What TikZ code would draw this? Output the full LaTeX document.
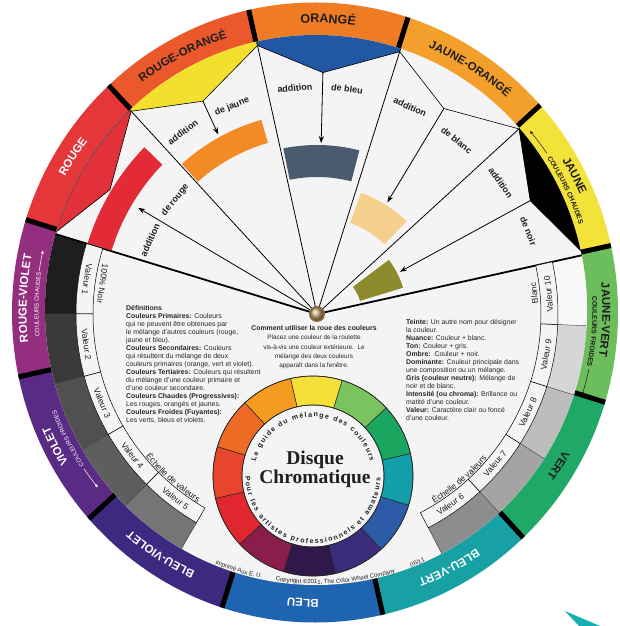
\documentclass[tikz,border=0pt]{standalone}
\usepackage{fontspec}
\setmainfont{Liberation Sans}
\newfontfamily\myserif{Liberation Serif}
\usetikzlibrary{decorations.text,arrows.meta}
% ring colours
\definecolor{cJV}{HTML}{6CBD5B}
\definecolor{cJ}{HTML}{F2E23A}
\definecolor{cJO}{HTML}{F29F2C}
\definecolor{cO}{HTML}{EF7B23}
\definecolor{cRO}{HTML}{EA582B}
\definecolor{cR}{HTML}{E5363A}
\definecolor{cRV}{HTML}{932F7E}
\definecolor{cV}{HTML}{592B85}
\definecolor{cBV}{HTML}{3D2A80}
\definecolor{cB}{HTML}{1F64B0}
\definecolor{cBVe}{HTML}{17A1A4}
\definecolor{cVe}{HTML}{20A966}
\definecolor{ringdark}{HTML}{1E1E1E}
\definecolor{diskbg}{HTML}{F4F4F4}
\definecolor{winblue}{HTML}{2157A5}
\definecolor{winyel}{HTML}{F3DF2E}
\definecolor{winred}{HTML}{E2313A}
\definecolor{swred}{HTML}{E22B36}
\definecolor{sworange}{HTML}{F28A25}
\definecolor{swgray}{HTML}{4A5B6D}
\definecolor{swtan}{HTML}{F5CF8C}
\definecolor{swolive}{HTML}{8E8B2F}
\definecolor{vA}{HTML}{1E1E1E}
\definecolor{vB}{HTML}{3A3A3A}
\definecolor{vC}{HTML}{505050}
\definecolor{vD}{HTML}{5E5E5E}
\definecolor{vE}{HTML}{757575}
\definecolor{vF}{HTML}{8D8D8D}
\definecolor{vG}{HTML}{A4A4A4}
\definecolor{vH}{HTML}{BDBDBD}
\definecolor{vI}{HTML}{D6D6D6}
\definecolor{vJ}{HTML}{F8F8F8}
\definecolor{sY}{HTML}{F5E03A}
\definecolor{sYO}{HTML}{F39C1F}
\definecolor{sO}{HTML}{EE6B25}
\definecolor{sRO}{HTML}{E8452F}
\definecolor{sR}{HTML}{E1262F}
\definecolor{sRV}{HTML}{8A1D4B}
\definecolor{sV}{HTML}{30194A}
\definecolor{sBV}{HTML}{3B2D7C}
\definecolor{sB}{HTML}{2C5BA7}
\definecolor{sT}{HTML}{139EAA}
\definecolor{sG}{HTML}{1BA660}
\definecolor{sYG}{HTML}{7BC35F}
\definecolor{brass}{HTML}{C19A52}
% fonts
\newcommand\myringfont{\bfseries\fontsize{11.5}{12}\selectfont}
\newcommand\myringfontL{\bfseries\fontsize{12.5}{13}\selectfont}
\newcommand\mysubfont{\fontsize{6}{7}\selectfont}
\newcommand\mysubfontb{\bfseries\fontsize{6.8}{8}\selectfont}
\newcommand\myaddfont{\bfseries\fontsize{9}{10}\selectfont}
\newcommand\myvalfont{\fontsize{8.5}{9}\selectfont}
\newcommand\myswfont{\bfseries\fontsize{7}{8}\selectfont}
\newcommand\mycpfont{\fontsize{6}{7}\selectfont}
\newcommand\mydeffont{\fontsize{6.9}{8}\selectfont}
% helpers
\newcommand\annsec[5][]{\path[#1] (#2:#4) arc[start angle=#2,end angle=#3,radius=#4] -- (#3:#5) arc[start angle=#3,end angle=#2,radius=#5] -- cycle;}
\newcommand\cwtext[5]{\path[decorate,decoration={text along path,text align=center,text color=#3,text={|#4|#5}}] ({#1+40}:#2) arc[start angle={#1+40},end angle={#1-40},radius=#2];}
\newcommand\ccwtext[5]{\path[decorate,decoration={text along path,text align=center,text color=#3,text={|#4|#5}}] ({#1-40}:#2) arc[start angle={#1-40},end angle={#1+40},radius=#2];}
\tikzset{
  addl/.style={font=\myaddfont,inner sep=0,text=ringdark},
  vlab/.style={font=\myvalfont,inner sep=0,text=ringdark},
  arr/.style={line width=.8pt,-{Stealth[length=7pt,width=5pt]}},
  subarr/.style={line width=.5pt,-{Triangle[length=3pt,width=2.6pt]}},
}
\begin{document}
\begin{tikzpicture}[x=1pt,y=1pt]
\useasboundingbox (-317,-312) rectangle (303,314);
\fill[white] (-317,-312) rectangle (303,314);
% ---------- outer ring ----------
\begin{scope}
  \clip (-2,1.5) ellipse [x radius=303, y radius=310];
  \foreach \c [count=\i from 0] in {cJV,cJ,cJO,cO,cRO,cR,cRV,cV,cBV,cB,cBVe,cVe}{
    \pgfmathsetmacro\ta{-17.5+30*\i}
    \pgfmathsetmacro\tb{\ta+30}
    \fill[\c] (-1.5,3) -- ++(\ta:420) arc[start angle=\ta,end angle=\tb,radius=420] -- cycle;
  }
  \foreach \i in {0,...,11}{
    \draw[line width=5pt] (-1.5,3) ++({12.5+30*\i}:250) -- ++({12.5+30*\i}:80);
  }
\end{scope}
% ---------- inner disk ----------
\fill[diskbg] (-1,4) ellipse [x radius=271, y radius=275];
\begin{scope}
  \clip (-1,4) ellipse [x radius=271, y radius=275];
  % value grays
  \foreach \a/\b/\g in {163/180/vA,180/195/vB,195/210/vC,210/225/vD,225/240/vE,-62.5/-47.5/vF,-47.5/-32.5/vG,-32.5/-17.5/vH,-17.5/-2.5/vI,-2.5/12.5/vJ}{
    \annsec[fill=\g]{\a}{\b}{241}{300}
  }
  \foreach \t in {180,195,210,225,240,-62.5,-47.5,-32.5,-17.5,-2.5}{
    \draw[line width=.45pt,black!75] (\t:241) -- (\t:300);
  }
  % windows
  \fill[black] (12.5:274) -- (28:241.5) -- (42.5:274) -- (42.5:300) arc[start angle=42.5,end angle=12.5,radius=300] -- cycle;
  \fill[winblue] (72.5:275) -- (88.6:241.5) -- (102.5:275) -- (102.5:300) arc[start angle=102.5,end angle=72.5,radius=300] -- cycle;
  \fill[winyel] (102.5:275) -- (118.2:241.5) -- (132.5:275) -- (132.5:300) arc[start angle=132.5,end angle=102.5,radius=300] -- cycle;
  \fill[winred] (132.5:275) -- (149:241.5) -- (163:275) -- (163:300) arc[start angle=163,end angle=132.5,radius=300] -- cycle;
  \draw[line width=.6pt] (12.5:274) -- (28:241.5) -- (42.5:274) -- (58.3:241.5) -- (72.5:275) -- (88.6:241.5) -- (102.5:275) -- (118.2:241.5) -- (132.5:275) -- (149:241.5) -- (163:275);
  \begin{scope}
    \clip (0,0) -- (132.5:400) -- (147:400) -- (163:400) -- cycle;
    \draw[line width=1.2pt,black!70] (-1,4) ellipse [x radius=271, y radius=275];
  \end{scope}
  % lines from the pin
  \foreach \t in {42.5,72.5,102.5,132.5}{ \draw[line width=.8pt] (0,0) -- (\t:300); }
  \draw[line width=1.8pt] (0,0) -- (163:300);
  \draw[line width=1.8pt] (0,0) -- (12.5:300);
\end{scope}
% ---------- ring labels ----------
\begin{scope}[shift={(-1.5,3)}]
  \cwtext{87.5}{288.2}{ringdark}{\myringfontL}{ORANGÉ}
  \cwtext{57.5}{286.6}{ringdark}{\myringfont}{JAUNE-ORANGÉ}
  \cwtext{117.5}{287}{ringdark}{\myringfont}{ROUGE-ORANGÉ}
  \cwtext{147.5}{284.3}{white}{\myringfont}{ROUGE}
  \cwtext{237.5}{286.6}{white}{\myringfont}{BLEU-VIOLET}
  \cwtext{267.5}{288.2}{white}{\myringfont}{BLEU}
  \cwtext{297.5}{287}{white}{\myringfont}{BLEU-VERT}
  \cwtext{327.5}{284.3}{ringdark}{\myringfont}{VERT}
  \cwtext{177.5}{289}{white}{\myringfont}{ROUGE-VIOLET}
  \cwtext{178.6}{277}{white}{\mysubfont}{COULEURS CHAUDES}
  \draw[white,subarr] (171.8:279.2) arc[start angle=171.8,end angle=167.5,radius=279.2];
  \cwtext{207.5}{290}{white}{\myringfont}{VIOLET}
  \cwtext{207.3}{278}{white}{\mysubfont}{COULEURS FROIDES}
  \draw[white,subarr] (214.3:280.2) arc[start angle=214.3,end angle=219,radius=280.2];
  \cwtext{27.6}{289}{ringdark}{\myringfont}{JAUNE}
  \cwtext{25.8}{277.5}{ringdark}{\mysubfontb}{COULEURS CHAUDES}
  \draw[ringdark,subarr] (34.3:280) arc[start angle=34.3,end angle=40,radius=280];
  \cwtext{358.3}{287}{ringdark}{\myringfont}{JAUNE-VERT}
  \cwtext{-4.2}{277}{ringdark}{\mysubfontb}{COULEURS FROIDES}
  \draw[ringdark,subarr] (-12:279.5) arc[start angle=-12,end angle=-17.5,radius=279.5];
\end{scope}
% ---------- value scale labels ----------
\foreach \a/\b/\t [count=\i] in {163/180/Valeur 1,180/195/Valeur 2,195/210/Valeur 3,210/225/Valeur 4,225/240/Valeur 5,-62.5/-47.5/Valeur 6,-47.5/-32.5/Valeur 7,-32.5/-17.5/Valeur 8,-17.5/-2.5/Valeur 9,-2.5/12.5/Valeur 10}{
  \annsec[fill=diskbg,draw=black,line width=.5pt]{\a}{\b}{224}{241}
  \node[vlab,rotate={(\a+\b)/2+90}] (val\i) at ({(\a+\b)/2}:232.5) {\t};
}
\node[vlab,rotate=262] (noir) at (172:216.5) {100\% Noir};
\node[vlab,rotate=95.5] (blanc) at (5.5:218) {Blanc};
\ccwtext{228.7}{223}{ringdark}{\myvalfont}{Échelle de valeurs}
\ccwtext{-49.3}{223}{ringdark}{\myvalfont}{Échelle de valeurs}
% ---------- swatches ----------
\annsec[fill=swred]{136}{162.8}{215}{240}
\annsec[fill=sworange]{106}{132}{178}{202}
\annsec[fill=swgray]{75.5}{101.5}{137}{169}
\annsec[fill=swtan]{46}{70}{97}{129}
\annsec[fill=swolive]{17}{37}{45}{90}
% ---------- arrows ----------
\coordinate (tipO) at (88.6:241.5);
\coordinate (tipRO) at (118.2:241.5);
\coordinate (tipJO) at (58.3:241.5);
\coordinate (tipJ) at (28:241.5);
\coordinate (pin) at (0,0);
\coordinate (hO) at (88.6:171);
\coordinate (hRO) at (118.8:205);
\coordinate (hJO) at (57.8:132);
\coordinate (hJ) at (27:93);
\coordinate (hR) at (149.3:208);
\draw[arr] (tipO) -- (hO);
\draw[arr] (tipRO) -- (hRO);
\draw[arr] (tipJO) -- (hJO);
\draw[arr] (tipJ) -- (hJ);
\draw[arr] (pin) -- (hR);
% ---------- addition labels ----------
\node[addl,rotate=66.1] (t1) at (156.1:182.7) {addition};
\node[addl,rotate=51.2] (t2) at (141.2:182) {de rouge};
\node[addl,rotate=36.4] (t3) at (126.4:226) {addition};
\node[addl,rotate=22.3] (t4) at (112.3:224) {de jaune};
\node[addl,rotate=5.6] (t5) at (95.6:227) {addition};
\node[addl,rotate=-7.6] (t6) at (82.4:227) {de bleu};
\node[addl,rotate=-24.2] (t7) at (65.8:227) {addition};
\node[addl,rotate=-38.8] (t8) at (51.2:223) {de blanc};
\node[addl,rotate=-54.8] (t9) at (35.6:226) {addition};
\node[addl,rotate=-68.3] (t10) at (21.4:227) {de noir};
% ---------- text blocks ----------
\node[anchor=north west,inner sep=0,align=left,font=\mydeffont,text=black!85] (defs) at (-191,8.5) {%
\textbf{Définitions}\\
\textbf{Couleurs Primaires:} Couleurs\\
qui ne peuvent être obtenues par\\
le mélange d'autres couleurs (rouge,\\
jaune et bleu).\\
\textbf{Couleurs Secondaires:} Couleurs\\
qui résultent du mélange de deux\\
couleurs primaires (orange, vert et violet).\\
\textbf{Couleurs Tertiaires:} Couleurs qui résultent\\
du mélange d'une couleur primaire et\\
d'une couleur secondaire.\\
\textbf{Couleurs Chaudes (Progressives):}\\
Les rouges, orangés et jaunes.\\
\textbf{Couleurs Froides (Fuyantes):}\\
Les verts, bleus et violets.};
\node[anchor=north west,inner sep=0,align=left,font=\mydeffont,text=black!85] (terms) at (89,-5.5) {%
\textbf{Teinte:} Un autre nom pour désigner\\
la couleur.\\
\textbf{Nuance:} Couleur + blanc.\\
\textbf{Ton:} Couleur + gris.\\
\textbf{Ombre:}\ \ Couleur + noir.\\
\textbf{Dominante:} Couleur principale dans\\
une composition ou un mélange.\\
\textbf{Gris (couleur neutre):} Mélange de\\
noir et de blanc.\\
\textbf{Intensité (ou chroma):} Brillance ou\\
matité d'une couleur.\\
\textbf{Valeur:} Caractère clair ou foncé\\
d'une couleur.};
\node[anchor=north,inner sep=0,align=center,font=\fontsize{6.4}{9.2}\selectfont,text=black!85] (howto) at (-3,-11.5) {%
{\bfseries\fontsize{6.9}{9.2}\selectfont Comment utiliser la roue des couleurs}\\
Placez une couleur de la roulette\\
vis-à-vis une couleur extérieure.\ \ Le\\
mélange des deux couleurs\\
apparaît dans la fenêtre.};
% ---------- copyright ----------
\ccwtext{253}{270}{ringdark}{\mycpfont}{Imprimé Aux E. U.}
\ccwtext{274}{270}{ringdark}{\mycpfont}{Copyright ©2011, The Color Wheel Company}
\ccwtext{292}{270}{ringdark}{\mycpfont}{06/11}
% ---------- small wheel ----------
\begin{scope}[shift={(-4,-162)}]
  \foreach \c [count=\i from 0] in {sY,sYO,sO,sRO,sR,sRV,sV,sBV,sB,sT,sG,sYG}{
    \pgfmathsetmacro\ta{73+30*\i}
    \pgfmathsetmacro\tb{\ta+30}
    \annsec[fill=\c,draw=black!85,line width=.5pt]{\ta}{\tb}{71}{100}
  }
  \draw[line width=.7pt,black!85] (0,0) circle (100);
  \draw[line width=.7pt,black!85] (0,0) circle (71);
  \path[decorate,decoration={text along path,text align=fit to path,text color=ringdark,text={|\myswfont|Le guide du mélange des couleurs}}] (166:59) arc[start angle=166,end angle=14,radius=59];
  \path[decorate,decoration={text along path,text align=fit to path,text color=ringdark,text={|\myswfont|Pour les artistes professionnels et amateurs}}] (180:67.5) arc[start angle=180,end angle=359,radius=67.5];
\end{scope}
\node[anchor=base,inner sep=0,font=\myserif\bfseries\fontsize{19.5}{20}\selectfont,text=ringdark] (disque) at (-2,-150) {Disque};
\node[anchor=base,inner sep=0,font=\myserif\bfseries\fontsize{19.5}{20}\selectfont,text=ringdark] (chroma) at (-2,-169) {Chromatique};
% ---------- pin ----------
\fill[brass!70!black] (pin) circle (8);
\shade[ball color=brass!75!white] (pin) circle (6.3);
% ---------- stray teal corner ----------
\fill[cBVe!85!cyan] (248,-297) -- (283,-312) -- (262,-312) -- cycle;
\end{tikzpicture}
\end{document}
